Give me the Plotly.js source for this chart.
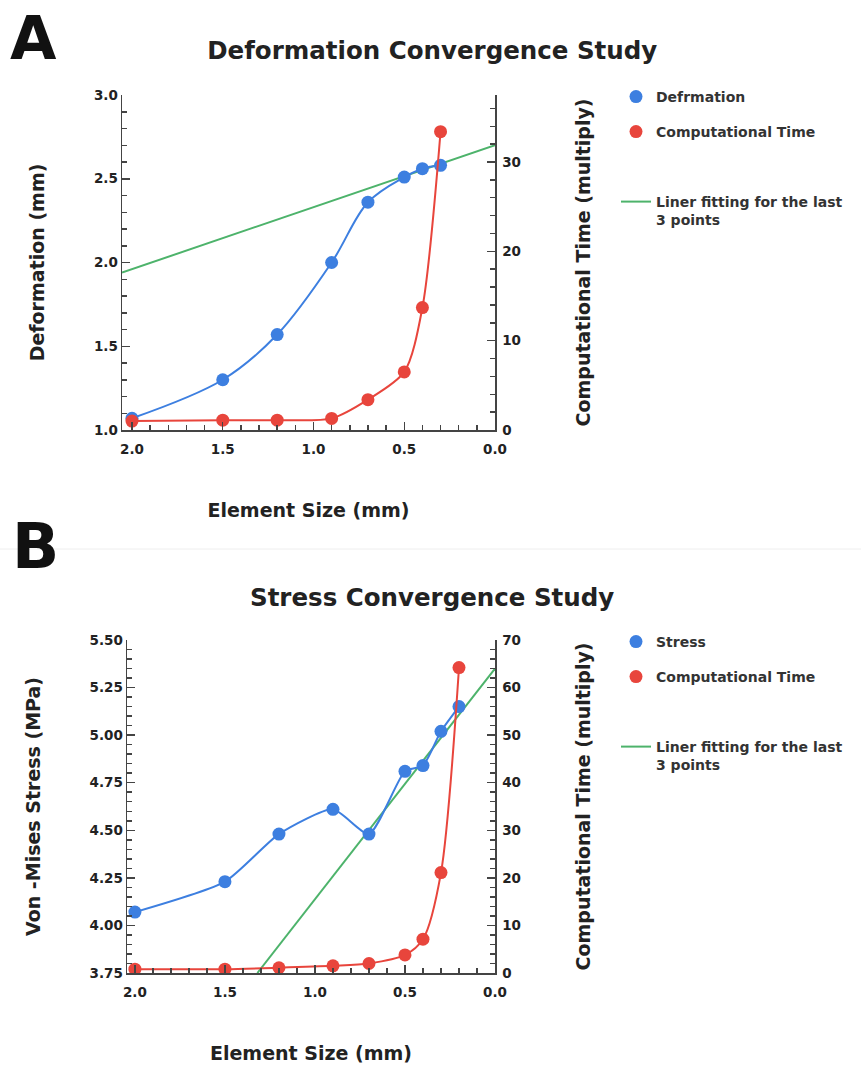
<!DOCTYPE html>
<html>
<head>
<meta charset="utf-8">
<script src="https://cdn.plot.ly/plotly-3.0.1.min.js"></script>
<style>html,body{margin:0;padding:0;background:#fff;}#chart{width:861px;height:1090px;}</style>
</head>
<body>
<div id="chart"></div>
<script>
// ---- Panel A data ----
const elemSizeA = [2.0, 1.5, 1.2, 0.9, 0.7, 0.5, 0.4, 0.3];
const deformation = [1.07, 1.30, 1.57, 2.00, 2.36, 2.51, 2.56, 2.58];
const compTimeA = [1.0, 1.1, 1.1, 1.3, 3.4, 6.5, 13.7, 33.4];
const fitElemA = [2.055, 0.0];
const fitDeformA = [1.94, 2.70];

// ---- Panel B data ----
const elemSizeB = [2.0, 1.5, 1.2, 0.9, 0.7, 0.5, 0.4, 0.3, 0.2];
const stress = [4.07, 4.23, 4.48, 4.61, 4.48, 4.81, 4.84, 5.02, 5.15];
const compTimeB = [0.8, 0.8, 1.1, 1.5, 2.0, 3.8, 7.1, 21.1, 64.2];
const fitElemB = [1.32, 0.0];
const fitStressB = [3.75, 5.35];

// ---- labels ----
const titleA = 'Deformation Convergence Study';
const titleB = 'Stress Convergence Study';
const nameDefA = 'Defrmation';
const nameStressB = 'Stress';
const nameTime = 'Computational Time';
const nameFit = 'Liner fitting for the last<br>3 points';

const BLUE = '#3d7fe0';
const RED = '#e8453c';
const GREEN = '#4db36b';
const FONT = 'DejaVu Sans, Verdana, sans-serif';
const W = 861, H = 1090;
const px = v => v / W;
const py = v => 1 - v / H;

const traces = [
  // Panel A
  {x: fitElemA, y: fitDeformA, xaxis: 'x', yaxis: 'y', mode: 'lines', name: nameFit,
   line: {color: GREEN, width: 2}, legend: 'legend3'},
  {x: elemSizeA, y: deformation, xaxis: 'x', yaxis: 'y', mode: 'lines', showlegend: false,
   line: {color: BLUE, width: 2, shape: 'spline', smoothing: 1}},
  {x: elemSizeA, y: deformation, xaxis: 'x', yaxis: 'y', mode: 'markers', name: nameDefA,
   marker: {color: BLUE, size: 13}, legend: 'legend'},
  {x: elemSizeA, y: compTimeA, xaxis: 'x', yaxis: 'y2', mode: 'lines', showlegend: false,
   line: {color: RED, width: 2, shape: 'spline', smoothing: 0.8}},
  {x: elemSizeA, y: compTimeA, xaxis: 'x', yaxis: 'y2', mode: 'markers', name: nameTime,
   marker: {color: RED, size: 13}, legend: 'legend2'},
  // Panel B
  {x: fitElemB, y: fitStressB, xaxis: 'x2', yaxis: 'y3', mode: 'lines', name: nameFit,
   line: {color: GREEN, width: 2}, legend: 'legend6'},
  {x: elemSizeB, y: stress, xaxis: 'x2', yaxis: 'y3', mode: 'lines', showlegend: false,
   line: {color: BLUE, width: 2, shape: 'spline', smoothing: 0.6}},
  {x: elemSizeB, y: stress, xaxis: 'x2', yaxis: 'y3', mode: 'markers', name: nameStressB,
   marker: {color: BLUE, size: 13}, legend: 'legend4'},
  {x: elemSizeB, y: compTimeB, xaxis: 'x2', yaxis: 'y4', mode: 'lines', showlegend: false,
   line: {color: RED, width: 2, shape: 'spline', smoothing: 0.8}},
  {x: elemSizeB, y: compTimeB, xaxis: 'x2', yaxis: 'y4', mode: 'markers', name: nameTime,
   marker: {color: RED, size: 13}, legend: 'legend5'}
];

const tickFont = {family: FONT, size: 13.5, color: '#222', weight: 'bold'};
const titleFont = {family: FONT, size: 19, color: '#222', weight: 'bold'};
function axisBase(extra) {
  return Object.assign({
    showgrid: false, zeroline: false, showline: true, linecolor: '#444', linewidth: 1.5,
    ticks: 'inside', ticklen: 8, tickwidth: 1.5, tickcolor: '#444',
    tickfont: tickFont, automargin: false, fixedrange: true
  }, extra);
}
function legendAt(x, y) {
  return {x: px(x), y: py(y), xanchor: 'left', yanchor: 'middle', valign: 'top',
    bgcolor: 'rgba(0,0,0,0)', font: {family: FONT, size: 14, color: '#333', weight: 'bold'}};
}

const layout = {
  width: W, height: H,
  margin: {l: 0, r: 0, t: 0, b: 0},
  paper_bgcolor: '#fff', plot_bgcolor: '#fff',
  title: {text: titleA, x: 0.502, xanchor: 'center', y: py(50), yanchor: 'middle',
          font: {family: FONT, size: 24.5, color: '#222', weight: 'bold'}},
  xaxis: axisBase({domain: [px(122), px(495)], anchor: 'y', range: [2.055, 0],
    dtick: 0.5, tick0: 0, tickformat: '.1f', ticklabelstandoff: 6,
    minor: {dtick: 0.1, ticks: 'inside', ticklen: 5, tickcolor: '#444'},
    title: {text: 'Element Size (mm)', font: titleFont, standoff: 48}}),
  yaxis: axisBase({domain: [py(430), py(95)], anchor: 'x', range: [1.0, 3.0],
    dtick: 0.5, tick0: 0, tickformat: '.1f',
    minor: {dtick: 0.1, ticks: 'inside', ticklen: 5, tickcolor: '#444'},
    title: {text: 'Deformation (mm)', font: titleFont, standoff: 44}}),
  yaxis2: axisBase({overlaying: 'y', side: 'right', anchor: 'x', range: [0, 37.5],
    dtick: 10, tick0: 0, ticklabelstandoff: 3,
    minor: {dtick: 2, ticks: 'inside', ticklen: 5, tickcolor: '#444'},
    title: {text: 'Computational Time (multiply)', font: titleFont, standoff: 56}}),
  xaxis2: axisBase({domain: [px(127), px(495)], anchor: 'y3', range: [2.044, 0],
    dtick: 0.5, tick0: 0, tickformat: '.1f', ticklabelstandoff: 6,
    minor: {dtick: 0.1, ticks: 'inside', ticklen: 5, tickcolor: '#444'},
    title: {text: 'Element Size (mm)', font: titleFont, standoff: 48}}),
  yaxis3: axisBase({domain: [py(973), py(640)], anchor: 'x2', range: [3.75, 5.5],
    dtick: 0.25, tick0: 0, tickformat: '.2f',
    minor: {dtick: 0.05, ticks: 'inside', ticklen: 5, tickcolor: '#444'},
    title: {text: 'Von -Mises Stress (MPa)', font: titleFont, standoff: 44}}),
  yaxis4: axisBase({overlaying: 'y3', side: 'right', anchor: 'x2', range: [0, 70],
    dtick: 10, tick0: 0, ticklabelstandoff: 3,
    minor: {dtick: 2, ticks: 'inside', ticklen: 5, tickcolor: '#444'},
    title: {text: 'Computational Time (multiply)', font: titleFont, standoff: 56}}),
  legend: legendAt(616, 97),
  legend2: legendAt(616, 132),
  legend3: legendAt(616, 211),
  legend4: legendAt(616, 642),
  legend5: legendAt(616, 677),
  legend6: legendAt(616, 756),
  annotations: [
    {text: 'A', xref: 'paper', yref: 'paper', x: px(8), y: py(1), xanchor: 'left', yanchor: 'top',
     showarrow: false, font: {family: FONT, size: 60, color: '#111', weight: 'bold'}},
    {text: 'B', xref: 'paper', yref: 'paper', x: px(10), y: py(546), xanchor: 'left', yanchor: 'middle',
     showarrow: false, font: {family: FONT, size: 62, color: '#111', weight: 'bold'}},
    {text: titleB, xref: 'paper', yref: 'paper', x: 0.502, y: py(597), xanchor: 'center', yanchor: 'middle',
     showarrow: false, font: {family: FONT, size: 24.5, color: '#222', weight: 'bold'}}
  ],
  shapes: [
    {type: 'line', xref: 'paper', yref: 'paper', x0: 0, x1: 1, y0: py(549), y1: py(549),
     line: {color: '#eeeeee', width: 1}}
  ],
  showlegend: true
};

Plotly.newPlot('chart', traces, layout, {staticPlot: true, displayModeBar: false});
</script>
</body>
</html>
